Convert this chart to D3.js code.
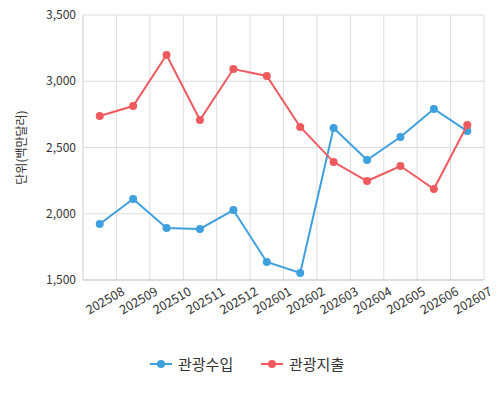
<!DOCTYPE html><html><head><meta charset="utf-8"><script src="https://cdn.jsdelivr.net/npm/d3@7"></script>
<style>body{margin:0;background:#fff}text{font-family:"Noto Sans CJK KR","Noto Sans",sans-serif}</style></head><body><svg width="500" height="400"></svg>
<script>
const months=["202508","202509","202510","202511","202512","202601","202602","202603","202604","202605","202606","202607"];
const income=[1923,2111,1892,1885,2028,1636,1553,2647,2406,2579,2791,2624];
const spend=[2738,2813,3198,2708,3092,3040,2655,2390,2247,2360,2187,2670];
const yTicks=[1500,2000,2500,3000,3500];
const svg=d3.select("svg");
const L=83,R=484,T=15,B=280;
const x=d3.scaleBand().domain(months).range([L,R]);
const y=d3.scaleLinear().domain([1500,3500]).range([B,T]);
const g=svg.append("g");
yTicks.forEach(t=>{g.append("line").attr("x1",L).attr("x2",R).attr("y1",y(t)).attr("y2",y(t)).attr("stroke","#ddd");
g.append("text").attr("x",L-7).attr("y",y(t)+4).attr("text-anchor","end").attr("font-size",12).attr("fill","#333").text(d3.format(",")(t));});
months.forEach(m=>{const xr=x(m)+x.bandwidth();
g.append("line").attr("x1",xr).attr("x2",xr).attr("y1",T).attr("y2",B).attr("stroke","#ddd");
g.append("text").attr("transform",`translate(${xr+9},${B+14}) rotate(-30)`).attr("text-anchor","end").attr("font-size",12.5).attr("fill","#333").text(m);});
g.append("line").attr("x1",L).attr("x2",L).attr("y1",T).attr("y2",B).attr("stroke","#ccc");
g.append("line").attr("x1",L).attr("x2",R).attr("y1",B).attr("y2",B).attr("stroke","#ccc");
svg.append("text").attr("transform",`translate(26,${(T+B)/2}) rotate(-90)`).attr("text-anchor","middle").attr("font-size",12).attr("fill","#333").text("단위(백만달러)");
const cx=(d,i)=>x(months[i])+x.bandwidth()/2;
[[income,"#3fa0e0"],[spend,"#ef5a5f"]].forEach(([d,c])=>{
svg.append("path").datum(d).attr("fill","none").attr("stroke",c).attr("stroke-width",2).attr("d",d3.line().x(cx).y(v=>y(v)));
svg.selectAll(null).data(d).enter().append("circle").attr("cx",cx).attr("cy",v=>y(v)).attr("r",4).attr("fill",c);});
const leg=[["관광수입","#3fa0e0",150],["관광지출","#ef5a5f",261]];
leg.forEach(([t,c,lx])=>{svg.append("line").attr("x1",lx).attr("x2",lx+22).attr("y1",364).attr("y2",364).attr("stroke",c).attr("stroke-width",2);
svg.append("circle").attr("cx",lx+11).attr("cy",364).attr("r",4).attr("fill",c);
svg.append("text").attr("x",lx+28).attr("y",369.5).attr("font-size",15).attr("fill","#333").text(t);});
</script></body></html>
